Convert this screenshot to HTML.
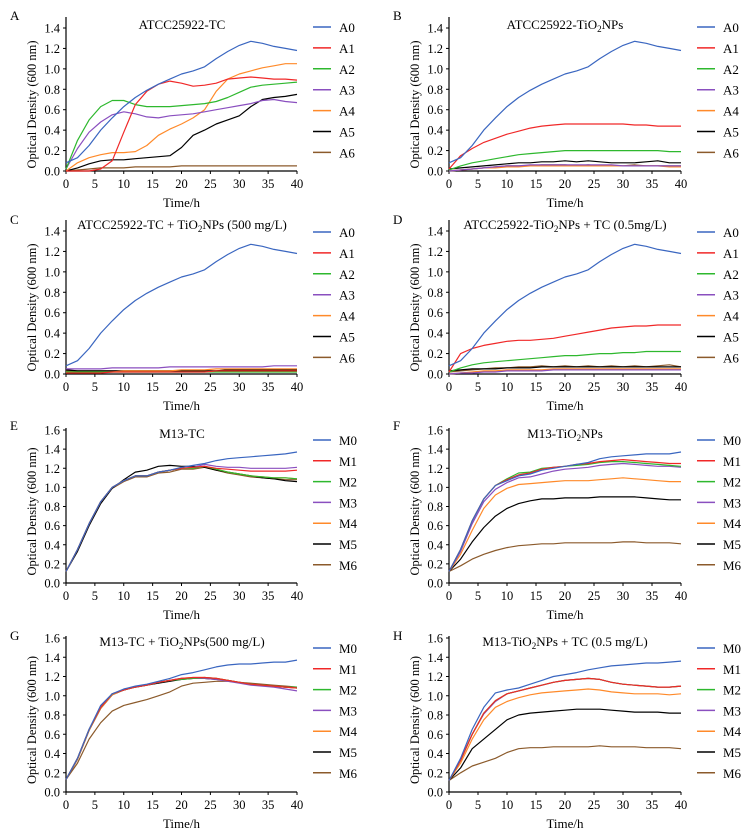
<!DOCTYPE html>
<html><head><meta charset="utf-8">
<style>
html,body{margin:0;padding:0;background:#fff;}
svg{display:block;font-family:"Liberation Serif",serif;}
</style></head>
<body>
<svg id="chart" width="750" height="835" viewBox="0 0 750 835" xmlns="http://www.w3.org/2000/svg"></svg>
<script>
const times = [0,2,4,6,8,10,12,14,16,18,20,22,24,26,28,30,32,34,36,38,40];
const xTicks = [0,5,10,15,20,25,30,35,40];
const yTicksA = [0,0.2,0.4,0.6,0.8,1.0,1.2,1.4];
const yTicksM = [0,0.2,0.4,0.6,0.8,1.0,1.2,1.4,1.6];
const namesA = ["A0","A1","A2","A3","A4","A5","A6"];
const namesM = ["M0","M1","M2","M3","M4","M5","M6"];
const colors = ["#3a66c0","#f02828","#2eb82e","#8a4fbf","#ff8a2a","#000000","#8b5a2b"];
const colorsM = ["#3a66c0","#f02828","#2eb82e","#8a4fbf","#ff8a2a","#000000","#8b5a2b"];

const ctrlA0 = [0.08,0.13,0.25,0.40,0.52,0.63,0.72,0.79,0.85,0.90,0.95,0.98,1.02,1.10,1.17,1.23,1.27,1.25,1.22,1.20,1.18];

const panelA = [ctrlA0,
 [0,0,0,0.02,0.10,0.38,0.65,0.78,0.85,0.88,0.86,0.83,0.84,0.86,0.90,0.91,0.92,0.91,0.90,0.90,0.89],
 [0.02,0.30,0.50,0.63,0.69,0.69,0.65,0.63,0.63,0.63,0.64,0.65,0.66,0.68,0.72,0.77,0.82,0.84,0.85,0.86,0.87],
 [0.02,0.22,0.38,0.48,0.55,0.58,0.56,0.53,0.52,0.54,0.55,0.56,0.58,0.60,0.62,0.64,0.66,0.69,0.70,0.68,0.67],
 [0,0.08,0.13,0.16,0.18,0.18,0.19,0.25,0.35,0.41,0.46,0.52,0.60,0.78,0.90,0.95,0.98,1.01,1.03,1.05,1.05],
 [0,0.03,0.07,0.10,0.11,0.11,0.12,0.13,0.14,0.15,0.23,0.35,0.40,0.46,0.50,0.54,0.63,0.70,0.72,0.73,0.75],
 [0,0.01,0.02,0.03,0.03,0.03,0.04,0.04,0.04,0.04,0.05,0.05,0.05,0.05,0.05,0.05,0.05,0.05,0.05,0.05,0.05]];
const panelB = [ctrlA0,
 [0.02,0.15,0.22,0.28,0.32,0.36,0.39,0.42,0.44,0.45,0.46,0.46,0.46,0.46,0.46,0.46,0.45,0.45,0.44,0.44,0.44],
 [0.01,0.05,0.08,0.10,0.12,0.14,0.16,0.17,0.18,0.19,0.20,0.20,0.20,0.20,0.20,0.20,0.20,0.20,0.20,0.19,0.19],
 [0,0.01,0.02,0.03,0.04,0.05,0.05,0.06,0.06,0.06,0.06,0.06,0.06,0.06,0.06,0.05,0.05,0.05,0.05,0.05,0.05],
 [0,0.01,0.02,0.03,0.03,0.04,0.04,0.05,0.05,0.05,0.05,0.05,0.05,0.05,0.05,0.05,0.05,0.05,0.05,0.04,0.04],
 [0.02,0.03,0.04,0.05,0.06,0.07,0.08,0.08,0.09,0.09,0.10,0.09,0.10,0.09,0.08,0.08,0.08,0.09,0.10,0.08,0.08],
 [0,0.01,0.02,0.03,0.04,0.05,0.05,0.05,0.06,0.06,0.06,0.05,0.06,0.05,0.05,0.05,0.06,0.05,0.05,0.05,0.05]];
const panelC = [ctrlA0,
 [0.01,0.01,0.01,0.01,0.02,0.02,0.02,0.02,0.02,0.02,0.02,0.02,0.02,0.03,0.03,0.03,0.03,0.03,0.03,0.03,0.03],
 [0.02,0.02,0.02,0.02,0.02,0.02,0.02,0.02,0.02,0.02,0.02,0.02,0.02,0.02,0.02,0.02,0.02,0.02,0.02,0.02,0.02],
 [0.05,0.05,0.05,0.05,0.06,0.06,0.06,0.06,0.06,0.07,0.07,0.07,0.07,0.07,0.07,0.07,0.07,0.07,0.08,0.08,0.08],
 [0.02,0.02,0.02,0.02,0.02,0.03,0.03,0.03,0.03,0.03,0.04,0.04,0.04,0.05,0.05,0.05,0.05,0.05,0.05,0.05,0.05],
 [0.04,0.03,0.03,0.03,0.03,0.03,0.03,0.03,0.03,0.03,0.03,0.03,0.03,0.03,0.04,0.04,0.04,0.04,0.04,0.04,0.04],
 [0.03,0.03,0.03,0.03,0.03,0.03,0.03,0.03,0.03,0.03,0.03,0.03,0.03,0.03,0.03,0.03,0.03,0.03,0.03,0.03,0.03]];
const panelD = [ctrlA0,
 [0.02,0.20,0.25,0.28,0.30,0.32,0.33,0.33,0.34,0.35,0.37,0.39,0.41,0.43,0.45,0.46,0.47,0.47,0.48,0.48,0.48],
 [0.02,0.06,0.09,0.11,0.12,0.13,0.14,0.15,0.16,0.17,0.18,0.18,0.19,0.20,0.20,0.21,0.21,0.22,0.22,0.22,0.22],
 [0,0.01,0.01,0.02,0.02,0.03,0.03,0.03,0.03,0.04,0.04,0.04,0.04,0.04,0.04,0.04,0.04,0.04,0.04,0.04,0.04],
 [0,0.01,0.02,0.03,0.03,0.04,0.04,0.04,0.04,0.05,0.05,0.05,0.05,0.05,0.05,0.05,0.05,0.05,0.05,0.05,0.05],
 [0.03,0.04,0.05,0.05,0.05,0.06,0.06,0.06,0.07,0.07,0.07,0.07,0.07,0.07,0.07,0.07,0.07,0.07,0.07,0.07,0.07],
 [0.02,0.03,0.04,0.05,0.06,0.06,0.07,0.07,0.08,0.07,0.08,0.07,0.08,0.07,0.08,0.07,0.08,0.07,0.08,0.09,0.07]];

const panelE = [
 [0.12,0.35,0.62,0.85,1.00,1.07,1.12,1.12,1.16,1.18,1.21,1.23,1.25,1.28,1.30,1.31,1.32,1.33,1.34,1.35,1.37],
 [0.12,0.35,0.62,0.85,1.00,1.07,1.12,1.12,1.16,1.18,1.20,1.21,1.22,1.20,1.19,1.18,1.17,1.17,1.17,1.17,1.18],
 [0.12,0.35,0.62,0.85,1.00,1.07,1.12,1.12,1.16,1.18,1.20,1.20,1.22,1.19,1.16,1.14,1.12,1.11,1.10,1.10,1.09],
 [0.12,0.35,0.62,0.85,1.00,1.07,1.12,1.12,1.16,1.18,1.20,1.21,1.24,1.22,1.21,1.21,1.20,1.20,1.20,1.20,1.21],
 [0.12,0.35,0.62,0.85,1.00,1.07,1.12,1.12,1.16,1.18,1.20,1.20,1.22,1.19,1.16,1.14,1.12,1.11,1.10,1.10,1.09],
 [0.12,0.33,0.60,0.83,0.99,1.08,1.16,1.18,1.22,1.23,1.22,1.22,1.21,1.18,1.16,1.14,1.12,1.10,1.09,1.07,1.06],
 [0.12,0.34,0.61,0.84,0.99,1.06,1.11,1.11,1.15,1.16,1.19,1.19,1.21,1.18,1.15,1.13,1.11,1.10,1.09,1.08,1.08]];
const panelF = [
 [0.12,0.35,0.65,0.88,1.02,1.07,1.12,1.14,1.18,1.20,1.22,1.24,1.26,1.30,1.32,1.33,1.34,1.35,1.35,1.35,1.37],
 [0.12,0.35,0.65,0.88,1.02,1.08,1.13,1.15,1.19,1.21,1.22,1.24,1.25,1.27,1.28,1.29,1.28,1.27,1.26,1.25,1.25],
 [0.12,0.35,0.65,0.88,1.02,1.09,1.15,1.16,1.20,1.21,1.22,1.23,1.24,1.26,1.27,1.27,1.26,1.25,1.24,1.23,1.22],
 [0.12,0.33,0.62,0.85,0.98,1.05,1.10,1.11,1.14,1.17,1.19,1.20,1.21,1.23,1.24,1.25,1.24,1.23,1.22,1.22,1.21],
 [0.12,0.30,0.55,0.78,0.92,0.99,1.03,1.04,1.05,1.06,1.07,1.07,1.07,1.08,1.09,1.10,1.09,1.08,1.07,1.06,1.06],
 [0.12,0.25,0.43,0.58,0.70,0.78,0.83,0.86,0.88,0.88,0.89,0.89,0.89,0.90,0.90,0.90,0.90,0.89,0.88,0.87,0.87],
 [0.12,0.18,0.25,0.30,0.34,0.37,0.39,0.40,0.41,0.41,0.42,0.42,0.42,0.42,0.42,0.43,0.43,0.42,0.42,0.42,0.41]];
const panelG = [
 [0.13,0.35,0.65,0.90,1.02,1.07,1.10,1.12,1.15,1.18,1.22,1.24,1.27,1.30,1.32,1.33,1.33,1.34,1.35,1.35,1.37],
 [0.13,0.35,0.65,0.88,1.02,1.06,1.09,1.11,1.14,1.16,1.18,1.19,1.19,1.18,1.16,1.14,1.12,1.11,1.10,1.09,1.08],
 [0.13,0.35,0.65,0.88,1.02,1.06,1.09,1.11,1.14,1.16,1.17,1.18,1.19,1.18,1.16,1.14,1.12,1.11,1.10,1.09,1.09],
 [0.13,0.35,0.65,0.88,1.02,1.06,1.09,1.11,1.14,1.16,1.18,1.18,1.18,1.17,1.15,1.13,1.11,1.10,1.09,1.07,1.05],
 [0.13,0.34,0.64,0.87,1.01,1.06,1.09,1.11,1.14,1.16,1.18,1.19,1.19,1.18,1.16,1.14,1.12,1.11,1.10,1.09,1.08],
 [0.13,0.34,0.64,0.87,1.01,1.06,1.09,1.11,1.13,1.15,1.17,1.18,1.18,1.17,1.16,1.14,1.12,1.11,1.10,1.09,1.08],
 [0.13,0.30,0.55,0.72,0.84,0.90,0.93,0.96,1.00,1.04,1.10,1.13,1.14,1.15,1.15,1.14,1.13,1.12,1.11,1.10,1.09]];
const panelH = [
 [0.12,0.35,0.65,0.88,1.03,1.06,1.08,1.12,1.16,1.20,1.22,1.24,1.27,1.29,1.31,1.32,1.33,1.34,1.34,1.35,1.36],
 [0.12,0.33,0.60,0.82,0.95,1.02,1.05,1.08,1.11,1.14,1.16,1.17,1.18,1.17,1.14,1.12,1.11,1.10,1.09,1.09,1.10],
 [0.12,0.33,0.60,0.82,0.95,1.02,1.05,1.08,1.11,1.14,1.16,1.17,1.18,1.17,1.14,1.12,1.11,1.10,1.09,1.09,1.10],
 [0.12,0.33,0.60,0.81,0.94,1.02,1.05,1.08,1.11,1.14,1.16,1.17,1.18,1.17,1.14,1.12,1.11,1.10,1.09,1.09,1.10],
 [0.12,0.30,0.55,0.75,0.88,0.94,0.98,1.01,1.03,1.04,1.05,1.06,1.07,1.06,1.04,1.03,1.02,1.02,1.02,1.01,1.02],
 [0.12,0.25,0.45,0.55,0.65,0.75,0.80,0.82,0.83,0.84,0.85,0.86,0.86,0.86,0.85,0.84,0.83,0.83,0.83,0.82,0.82],
 [0.12,0.20,0.27,0.31,0.35,0.41,0.45,0.46,0.46,0.47,0.47,0.47,0.47,0.48,0.47,0.47,0.47,0.46,0.46,0.46,0.45]];

const svg = document.getElementById('chart');
const NS = 'http://www.w3.org/2000/svg';
function mk(tag, attrs, parent){
  const e = document.createElementNS(NS, tag);
  for (const k in attrs) e.setAttribute(k, attrs[k]);
  (parent||svg).appendChild(e);
  return e;
}

function panel(cfg){
  const g = mk('g', {});
  
  
  const xs = t => cfg.x0 + (cfg.x40 - cfg.x0) * t / 40;
  const ys = v => cfg.y0 - (cfg.y0 - cfg.yTopPx) * v / cfg.yTopVal;
  // letter
  const L = mk('text', {x: cfg.lx, y: cfg.ly, 'font-size': 13}, g);
  L.textContent = cfg.letter;
  
  
  // title
  const T = mk('text', {x: cfg.tx, y: cfg.ty, 'font-size': 13, 'text-anchor': 'middle'}, g);
  T.innerHTML = cfg.title;
  
  
  // axes
  const ax = mk('path', {d: `M${cfg.x0},${cfg.axTop}V${cfg.y0}H${cfg.x40}`, stroke: '#000', 'stroke-width': 1.2, fill: 'none'}, g);
  
  
  cfg.yTicks.forEach(v => {
    const y = ys(v);
    mk('line', {x1: cfg.x0 - 3, x2: cfg.x0, y1: y, y2: y, stroke: '#000'}, g);
    const t = mk('text', {x: cfg.x0 - 6, y: y + 4.5, 'font-size': 12.5, 'text-anchor': 'end'}, g);
    t.textContent = v.toFixed(1);
    
    
  });
  xTicks.forEach(v => {
    const x = xs(v);
    mk('line', {x1: x, x2: x, y1: cfg.y0, y2: cfg.y0 + 3, stroke: '#000'}, g);
    const t = mk('text', {x: x, y: cfg.y0 + 17, 'font-size': 12.5, 'text-anchor': 'middle'}, g);
    t.textContent = v;
    
    
  });
  const xt = mk('text', {x: (cfg.x0 + cfg.x40) / 2, y: cfg.y0 + 36, 'font-size': 13, 'text-anchor': 'middle'}, g);
  xt.textContent = 'Time/h';
  
  
  const ym = (cfg.y0 + cfg.yTopPx) / 2 + 5;
  const yt = mk('text', {x: 0, y: 0, 'font-size': 12.5, 'text-anchor': 'middle', transform: `translate(${cfg.x0 - 30},${ym}) rotate(-90)`}, g);
  yt.textContent = 'Optical Density (600 nm)';
  
  
  // series (draw in reverse so A0 on top)
  for (let i = cfg.data.length - 1; i >= 0; i--) {
    const d = cfg.data[i].map((v, j) => (j ? 'L' : 'M') + xs(times[j]).toFixed(1) + ',' + ys(v).toFixed(1)).join('');
    const p = mk('path', {d: d, stroke: cfg.colors[i], 'stroke-width': 1.2, fill: 'none', 'stroke-linejoin': 'round'}, g);
    
    
  }
  // legend
  cfg.names.forEach((n, i) => {
    const y = cfg.legY + cfg.legDy * i;
    const lg = mk('g', {}, g);
    
    
    mk('line', {x1: cfg.legX, x2: cfg.legX + 18, y1: y, y2: y, stroke: cfg.colors[i], 'stroke-width': 1.5}, lg);
    const t = mk('text', {x: cfg.legX + 26, y: y + 5, 'font-size': 13}, lg);
    t.textContent = n;
  });
}

const L = {x0: 66, x40: 297, lx: 10, legX: 313};
const R = {x0: 449, x40: 681, lx: 393, legX: 697};
const row1 = {y0: 171, yTopPx: 28, yTopVal: 1.4, axTop: 17, yTicks: yTicksA, ty: 29, ly: 20, legY: 27, legDy: 20.9};
const row2 = {y0: 374, yTopPx: 231, yTopVal: 1.4, axTop: 220, yTicks: yTicksA, ty: 229, ly: 224, legY: 232, legDy: 20.9};
const row3 = {y0: 583, yTopPx: 430, yTopVal: 1.6, axTop: 428, yTicks: yTicksM, ty: 438, ly: 430, legY: 440, legDy: 20.8};
const row4 = {y0: 792, yTopPx: 638, yTopVal: 1.6, axTop: 636, yTicks: yTicksM, ty: 646, ly: 640, legY: 648, legDy: 20.8};

panel(Object.assign({}, L, row1, {letter: 'A', tx: 182, title: 'ATCC25922-TC', data: panelA, names: namesA, colors: colors}));
panel(Object.assign({}, R, row1, {letter: 'B', tx: 565, title: 'ATCC25922-TiO<tspan font-size="9" dy="3">2</tspan><tspan dy="-3">NPs</tspan>', data: panelB, names: namesA, colors: colors}));
panel(Object.assign({}, L, row2, {letter: 'C', tx: 182, title: 'ATCC25922-TC + TiO<tspan font-size="9" dy="3">2</tspan><tspan dy="-3">NPs (500 mg/L)</tspan>', data: panelC, names: namesA, colors: colors}));
panel(Object.assign({}, R, row2, {letter: 'D', tx: 565, title: 'ATCC25922-TiO<tspan font-size="9" dy="3">2</tspan><tspan dy="-3">NPs + TC (0.5mg/L)</tspan>', data: panelD, names: namesA, colors: colors}));
panel(Object.assign({}, L, row3, {letter: 'E', tx: 182, title: 'M13-TC', data: panelE, names: namesM, colors: colorsM}));
panel(Object.assign({}, R, row3, {letter: 'F', tx: 565, title: 'M13-TiO<tspan font-size="9" dy="3">2</tspan><tspan dy="-3">NPs</tspan>', data: panelF, names: namesM, colors: colorsM}));
panel(Object.assign({}, L, row4, {letter: 'G', tx: 182, title: 'M13-TC + TiO<tspan font-size="9" dy="3">2</tspan><tspan dy="-3">NPs(500 mg/L)</tspan>', data: panelG, names: namesM, colors: colorsM}));
panel(Object.assign({}, R, row4, {letter: 'H', tx: 565, title: 'M13-TiO<tspan font-size="9" dy="3">2</tspan><tspan dy="-3">NPs + TC (0.5 mg/L)</tspan>', data: panelH, names: namesM, colors: colorsM}));
</script>
</body></html>
